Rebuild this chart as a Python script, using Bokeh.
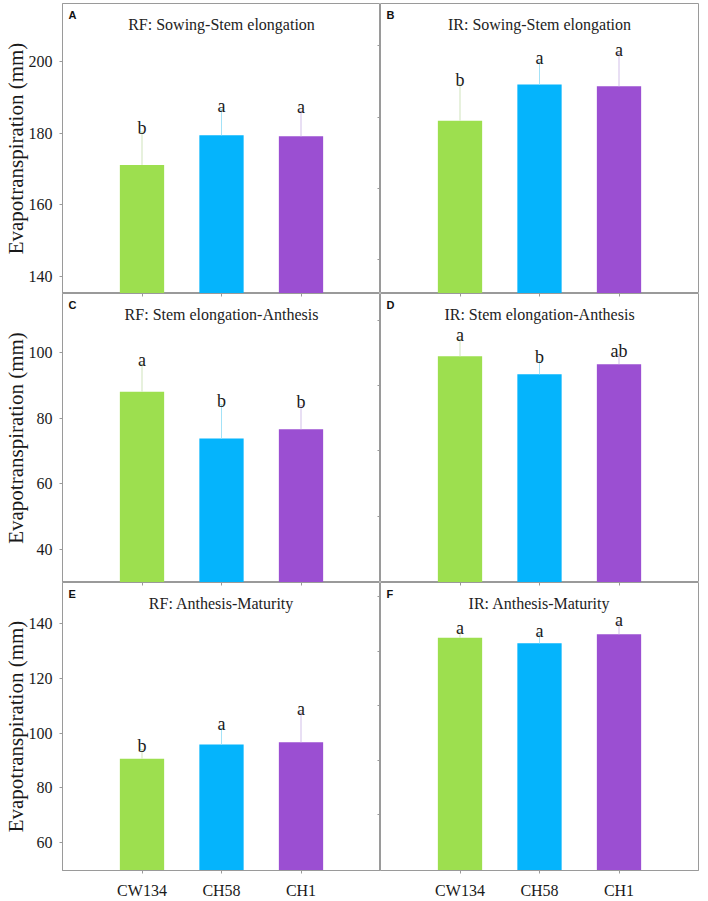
from bokeh.plotting import figure
from bokeh.layouts import column, row
from bokeh.models import (Range1d, FactorRange, FixedTicker, LinearAxis,
                          CategoricalAxis, Label)
from bokeh.embed import file_html
from bokeh.resources import INLINE
from bokeh.core.properties import value

# ---------------- data ----------------
cultivars = ["CW134", "CH58", "CH1"]

rf_sow_stem = [171.1, 179.4, 179.1]
rf_sow_stem_err = [9.2, 7.2, 7.0]
rf_sow_stem_sig = ["b", "a", "a"]

ir_sow_stem = [183.5, 193.6, 193.1]
ir_sow_stem_err = [10.2, 6.3, 9.2]
ir_sow_stem_sig = ["b", "a", "a"]

rf_stem_anth = [88.1, 73.8, 76.6]
rf_stem_anth_err = [8.4, 10.3, 7.2]
rf_stem_anth_sig = ["a", "b", "b"]

ir_stem_anth = [98.9, 93.4, 96.5]
ir_stem_anth_err = [5.2, 4.1, 2.9]
ir_stem_anth_sig = ["a", "b", "ab"]

rf_anth_mat = [90.6, 95.8, 96.6]
rf_anth_mat_err = [3.3, 5.9, 10.8]
rf_anth_mat_sig = ["b", "a", "a"]

ir_anth_mat = [134.9, 132.9, 136.2]
ir_anth_mat_err = [2.1, 3.2, 3.9]
ir_anth_mat_sig = ["a", "a", "a"]

panel_letters = ["A", "B", "C", "D", "E", "F"]
panel_titles = ["RF: Sowing-Stem elongation", "IR: Sowing-Stem elongation",
                "RF: Stem elongation-Anthesis", "IR: Stem elongation-Anthesis",
                "RF: Anthesis-Maturity", "IR: Anthesis-Maturity"]

row_limits = [(135.1, 216.3), (29.8, 118.1), (49.6, 155.2)]
left_ticks = [[140, 160, 180, 200], [40, 60, 80, 100], [60, 80, 100, 120, 140]]
right_ticks = [[144.5, 164.5, 184.5, 204.5], [50, 70, 90, 110], [70, 90, 110, 130, 150]]

bar_colors = ["#9ddf4f", "#05b4fc", "#9b4fd2"]
err_colors = ["#cfe3bb", "#a3e2f7", "#d2bfe9"]

ylabel = "Evapotranspiration (mm)"
# --------------------------------------

SERIF = "Liberation Serif"
GRAY = "#9a9a9a"
LEFT_B = 55
FW = 318
FH = [290, 289, 288]

panels = [
    (rf_sow_stem, rf_sow_stem_err, rf_sow_stem_sig),
    (ir_sow_stem, ir_sow_stem_err, ir_sow_stem_sig),
    (rf_stem_anth, rf_stem_anth_err, rf_stem_anth_sig),
    (ir_stem_anth, ir_stem_anth_err, ir_stem_anth_sig),
    (rf_anth_mat, rf_anth_mat_err, rf_anth_mat_sig),
    (ir_anth_mat, ir_anth_mat_err, ir_anth_mat_sig),
]


def tick_only(axis):
    """An axis that only draws its tick marks (no line, no labels)."""
    axis.minor_tick_line_color = None
    axis.major_tick_line_color = GRAY
    axis.axis_line_color = None
    axis.major_label_text_color = None
    axis.major_label_text_font_size = "1px"
    axis.major_label_standoff = 0
    return axis


rows = []
for r in range(3):
    ylo, yhi = row_limits[r]
    figs = []
    for c in range(2):
        k = r * 2 + c
        vals, errs, sig = panels[k]
        tops = [v + e for v, e in zip(vals, errs)]
        bottom_row = (r == 2)
        p = figure(
            x_range=FactorRange(*cultivars, range_padding=1 / 3),
            y_range=Range1d(ylo, yhi),
            frame_width=FW, frame_height=FH[r],
            min_border_left=LEFT_B if c == 0 else 0,
            min_border_right=0 if c == 0 else 1,
            min_border_top=3 if r == 0 else 0,
            min_border_bottom=30 if bottom_row else 0,
            x_axis_location="below" if bottom_row else None,
            y_axis_location="left" if c == 0 else None,
            toolbar_location=None, output_backend="svg",
            outline_line_color=GRAY, outline_line_width=1,
            background_fill_color="white", border_fill_color="white",
        )
        p.grid.visible = False

        # bars
        p.vbar(x=cultivars, top=vals, bottom=0, width=0.557,
               fill_color=bar_colors, line_color=None)
        # upper error bars
        p.segment(x0=cultivars, y0=vals, x1=cultivars, y1=tops,
                  line_color=err_colors, line_width=1)
        p.scatter(x=cultivars, y=tops, marker="dash", size=4,
                  line_color=err_colors, line_width=1)
        # significance letters
        p.text(x=cultivars, y=tops, text=sig, text_align="center",
               text_baseline="alphabetic", y_offset=-4,
               text_font=value(SERIF), text_font_size="18px",
               text_color="#1a1a1a")

        # panel title and letter
        p.add_layout(Label(x=1.5, y=yhi, y_offset=-21, text=panel_titles[k],
                           text_align="center", text_baseline="middle",
                           text_font=SERIF, text_font_size="16px",
                           text_color="#222222"))
        p.add_layout(Label(x=-0.5, x_offset=6, y=yhi, y_offset=-11,
                           text=panel_letters[k], text_align="left",
                           text_baseline="middle", text_font="Liberation Sans",
                           text_font_style="bold", text_font_size="11px",
                           text_color="#111111"))

        if bottom_row:
            xa = p.below[0]
            xa.major_tick_out = 3
            xa.major_tick_in = 0
            xa.minor_tick_line_color = None
            xa.major_tick_line_color = GRAY
            xa.axis_line_color = GRAY
            xa.major_label_standoff = 8
            xa.major_label_text_font = SERIF
            xa.major_label_text_font_size = "16px"
            xa.major_label_text_color = "#1a1a1a"

        if c == 0:
            ax = p.left[0]
            ax.ticker = FixedTicker(ticks=left_ticks[r])
            ax.major_tick_out = 3
            ax.major_tick_in = 0
            ax.minor_tick_line_color = None
            ax.major_tick_line_color = GRAY
            ax.axis_line_color = GRAY
            ax.major_label_standoff = 7
            ax.major_label_text_font = SERIF
            ax.major_label_text_font_size = "16px"
            ax.major_label_text_color = "#1a1a1a"
            ax.axis_label = ylabel
            ax.axis_label_text_font = SERIF
            ax.axis_label_text_font_style = "normal"
            ax.axis_label_text_font_size = "21px"
            ax.axis_label_text_color = "#1a1a1a"
            ax.axis_label_standoff = -2
            # ticks of the neighbouring right panel, pointing left from the divider
            rax = tick_only(LinearAxis(ticker=FixedTicker(ticks=right_ticks[r]),
                                       major_tick_in=3, major_tick_out=0))
            p.add_layout(rax, "right")

        if r > 0:
            # x ticks of the panel above, hanging into this one
            tax = tick_only(CategoricalAxis(major_tick_in=3, major_tick_out=0))
            p.add_layout(tax, "above")

        figs.append(p)
    rows.append(row(*figs, spacing=0))

layout = column(*rows, spacing=0)
open("out.html", "w").write(file_html(layout, INLINE))
